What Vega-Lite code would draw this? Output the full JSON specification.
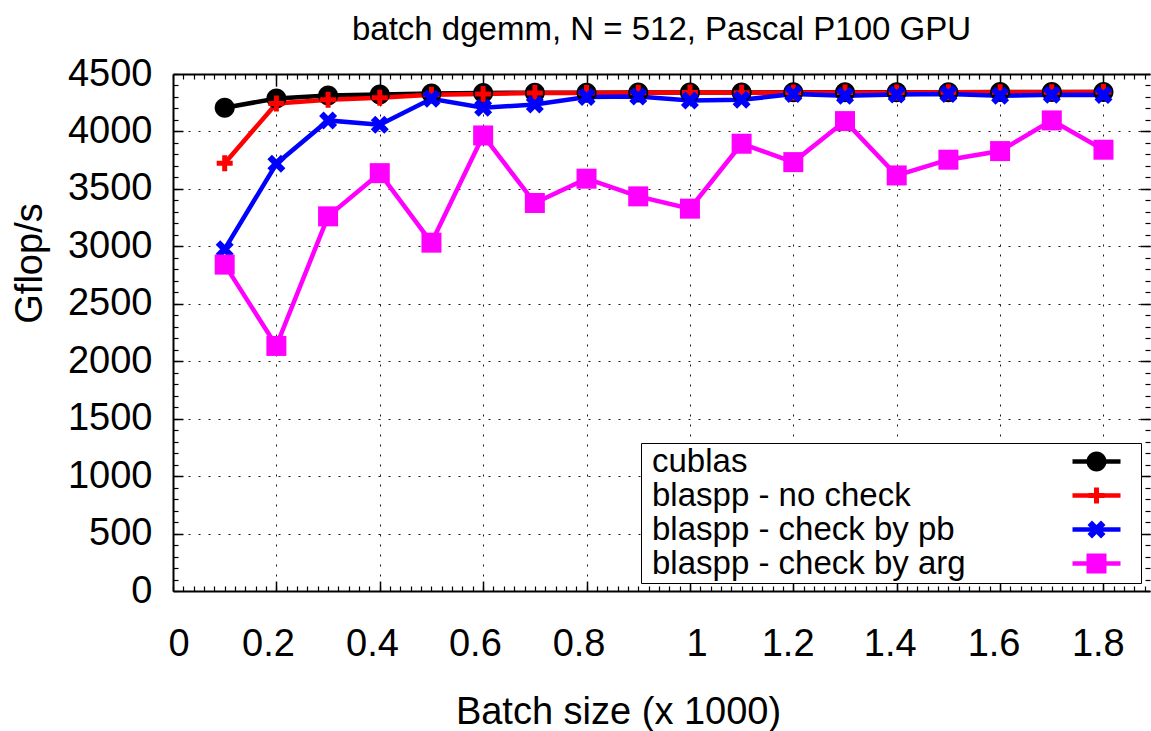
{
  "$schema": "https://vega.github.io/schema/vega-lite/v6.json",
  "width": 977,
  "height": 517,
  "autosize": {"type": "none"},
  "padding": {"left": 173, "top": 74, "right": 1, "bottom": 140},
  "background": "white",
  "config": {
    "font": "Liberation Sans",
    "view": {"stroke": null},
    "axis": {
      "labelColor": "black",
      "titleColor": "black",
      "domainColor": "black",
      "tickColor": "black",
      "labelFont": "Liberation Sans",
      "titleFont": "Liberation Sans",
      "titleFontWeight": "normal",
      "labelFlush": false,
      "labelOverlap": false,
      "gridColor": "black",
      "gridDash": [2, 8],
      "gridWidth": 1,
      "gridOpacity": 0.9
    },
    "legend": {
      "orient": "none",
      "legendX": 468,
      "legendY": 369,
      "labelFontSize": 33,
      "labelFont": "Liberation Sans",
      "labelColor": "black",
      "labelLimit": 800,
      "labelOffset": -461,
      "symbolOffset": 437,
      "symbolSize": 400,
      "rowPadding": 0,
      "padding": 2
    }
  },
  "title": {
    "text": "batch dgemm, N = 512, Pascal P100 GPU",
    "fontSize": 33,
    "fontWeight": "normal",
    "font": "Liberation Sans",
    "color": "black",
    "anchor": "middle",
    "offset": 8
  },
  "data": {
    "values": [
      {"series": "cublas", "x": 0.1, "gflops": 4206},
      {"series": "cublas", "x": 0.2, "gflops": 4287},
      {"series": "cublas", "x": 0.3, "gflops": 4313},
      {"series": "cublas", "x": 0.4, "gflops": 4322},
      {"series": "cublas", "x": 0.5, "gflops": 4330},
      {"series": "cublas", "x": 0.6, "gflops": 4335},
      {"series": "cublas", "x": 0.7, "gflops": 4337},
      {"series": "cublas", "x": 0.8, "gflops": 4336},
      {"series": "cublas", "x": 0.9, "gflops": 4338},
      {"series": "cublas", "x": 1.0, "gflops": 4340},
      {"series": "cublas", "x": 1.1, "gflops": 4339},
      {"series": "cublas", "x": 1.2, "gflops": 4341},
      {"series": "cublas", "x": 1.3, "gflops": 4341},
      {"series": "cublas", "x": 1.4, "gflops": 4342},
      {"series": "cublas", "x": 1.5, "gflops": 4342},
      {"series": "cublas", "x": 1.6, "gflops": 4343},
      {"series": "cublas", "x": 1.7, "gflops": 4344},
      {"series": "cublas", "x": 1.8, "gflops": 4344},
      {"series": "blaspp - no check", "x": 0.1, "gflops": 3724},
      {"series": "blaspp - no check", "x": 0.2, "gflops": 4243},
      {"series": "blaspp - no check", "x": 0.3, "gflops": 4276},
      {"series": "blaspp - no check", "x": 0.4, "gflops": 4293},
      {"series": "blaspp - no check", "x": 0.5, "gflops": 4320},
      {"series": "blaspp - no check", "x": 0.6, "gflops": 4326},
      {"series": "blaspp - no check", "x": 0.7, "gflops": 4334},
      {"series": "blaspp - no check", "x": 0.8, "gflops": 4334},
      {"series": "blaspp - no check", "x": 0.9, "gflops": 4336},
      {"series": "blaspp - no check", "x": 1.0, "gflops": 4338},
      {"series": "blaspp - no check", "x": 1.1, "gflops": 4337},
      {"series": "blaspp - no check", "x": 1.2, "gflops": 4339},
      {"series": "blaspp - no check", "x": 1.3, "gflops": 4340},
      {"series": "blaspp - no check", "x": 1.4, "gflops": 4339},
      {"series": "blaspp - no check", "x": 1.5, "gflops": 4341},
      {"series": "blaspp - no check", "x": 1.6, "gflops": 4342},
      {"series": "blaspp - no check", "x": 1.7, "gflops": 4341},
      {"series": "blaspp - no check", "x": 1.8, "gflops": 4343},
      {"series": "blaspp - check by pb", "x": 0.1, "gflops": 2975},
      {"series": "blaspp - check by pb", "x": 0.2, "gflops": 3719},
      {"series": "blaspp - check by pb", "x": 0.3, "gflops": 4096},
      {"series": "blaspp - check by pb", "x": 0.4, "gflops": 4058},
      {"series": "blaspp - check by pb", "x": 0.5, "gflops": 4284},
      {"series": "blaspp - check by pb", "x": 0.6, "gflops": 4206},
      {"series": "blaspp - check by pb", "x": 0.7, "gflops": 4235},
      {"series": "blaspp - check by pb", "x": 0.8, "gflops": 4300},
      {"series": "blaspp - check by pb", "x": 0.9, "gflops": 4305},
      {"series": "blaspp - check by pb", "x": 1.0, "gflops": 4270},
      {"series": "blaspp - check by pb", "x": 1.1, "gflops": 4275},
      {"series": "blaspp - check by pb", "x": 1.2, "gflops": 4325},
      {"series": "blaspp - check by pb", "x": 1.3, "gflops": 4310},
      {"series": "blaspp - check by pb", "x": 1.4, "gflops": 4322},
      {"series": "blaspp - check by pb", "x": 1.5, "gflops": 4325},
      {"series": "blaspp - check by pb", "x": 1.6, "gflops": 4310},
      {"series": "blaspp - check by pb", "x": 1.7, "gflops": 4320},
      {"series": "blaspp - check by pb", "x": 1.8, "gflops": 4318},
      {"series": "blaspp - check by arg", "x": 0.1, "gflops": 2841},
      {"series": "blaspp - check by arg", "x": 0.2, "gflops": 2133},
      {"series": "blaspp - check by arg", "x": 0.3, "gflops": 3261},
      {"series": "blaspp - check by arg", "x": 0.4, "gflops": 3637},
      {"series": "blaspp - check by arg", "x": 0.5, "gflops": 3032},
      {"series": "blaspp - check by arg", "x": 0.6, "gflops": 3965},
      {"series": "blaspp - check by arg", "x": 0.7, "gflops": 3377},
      {"series": "blaspp - check by arg", "x": 0.8, "gflops": 3589},
      {"series": "blaspp - check by arg", "x": 0.9, "gflops": 3435},
      {"series": "blaspp - check by arg", "x": 1.0, "gflops": 3328},
      {"series": "blaspp - check by arg", "x": 1.1, "gflops": 3893},
      {"series": "blaspp - check by arg", "x": 1.2, "gflops": 3733},
      {"series": "blaspp - check by arg", "x": 1.3, "gflops": 4090},
      {"series": "blaspp - check by arg", "x": 1.4, "gflops": 3617},
      {"series": "blaspp - check by arg", "x": 1.5, "gflops": 3754},
      {"series": "blaspp - check by arg", "x": 1.6, "gflops": 3829},
      {"series": "blaspp - check by arg", "x": 1.7, "gflops": 4096},
      {"series": "blaspp - check by arg", "x": 1.8, "gflops": 3841}
    ]
  },
  "resolve": {"axis": {"x": "independent", "y": "independent"}},
  "layer": [
    {
      "mark": {"type": "line", "strokeWidth": 4.5},
      "encoding": {
        "x": {
          "field": "x", "type": "quantitative",
          "scale": {"domain": [0, 1.89], "nice": false, "zero": false},
          "axis": {"orient": "bottom", "values": [0.2, 0.4, 0.6, 0.8, 1, 1.2, 1.4, 1.6, 1.8], "grid": true, "labels": false, "ticks": true, "tickSize": -10, "tickWidth": 1.5, "domain": true, "domainWidth": 2, "title": null}
        },
        "y": {
          "field": "gflops", "type": "quantitative",
          "scale": {"domain": [0, 4500], "nice": false, "zero": false},
          "axis": {"orient": "left", "values": [0, 500, 1000, 1500, 2000, 2500, 3000, 3500, 4000, 4500], "format": "d", "grid": false, "labels": true, "labelFontSize": 38, "labelPadding": 21, "ticks": false, "domain": true, "domainWidth": 2, "title": "Gflop/s", "titleFontSize": 38, "titlePadding": 18, "titleY": 189}
        },
        "color": {
          "field": "series", "type": "nominal", "title": null,
          "scale": {"domain": ["cublas", "blaspp - no check", "blaspp - check by pb", "blaspp - check by arg"], "range": ["#000000", "#ff0000", "#0000ff", "#ff00ff"]},
          "legend": {
            "title": null,
            "symbolType": "M-2.4,0H2.4M3.3,0L3.3,0",
            "symbolStrokeWidth": 4.5,
            "strokeColor": "black",
            "fillColor": "white",
            "labelColor": "black"
          }
        }
      }
    },
    {
      "mark": {"type": "point", "filled": true, "size": 400, "opacity": 1, "strokeWidth": 0},
      "encoding": {
        "x": {
          "field": "x", "type": "quantitative",
          "axis": {"orient": "top", "values": [0.2, 0.4, 0.6, 0.8, 1, 1.2, 1.4, 1.6, 1.8], "grid": false, "labels": false, "ticks": true, "tickSize": -12, "tickWidth": 1.5, "domain": true, "domainWidth": 2, "title": null}
        },
        "y": {
          "field": "gflops", "type": "quantitative",
          "axis": {"orient": "right", "values": [500, 1000, 1500, 2000, 2500, 3000, 3500, 4000], "grid": true, "labels": false, "ticks": true, "tickSize": -10, "tickWidth": 1.5, "domain": false, "title": null}
        },
        "fill": {
          "field": "series", "type": "nominal", "title": null,
          "scale": {"domain": ["blaspp - check by arg", "blaspp - check by pb", "blaspp - no check", "cublas"], "range": ["#ff00ff", "#0000ff", "#ff0000", "#000000"]},
          "legend": {
            "title": null,
            "values": ["cublas", "blaspp - no check", "blaspp - check by pb", "blaspp - check by arg"],
            "symbolStrokeWidth": 0,
            "strokeColor": "transparent",
            "fillColor": "transparent",
            "labelOpacity": 0
          }
        },
        "shape": {
          "field": "series", "type": "nominal", "title": null,
          "scale": {
            "domain": ["blaspp - check by arg", "blaspp - check by pb", "blaspp - no check", "cublas"],
            "range": [
              "M-1,-1H1V1H-1Z",
              "M-0.9,-0.45L-0.45,-0.9L0,-0.45L0.45,-0.9L0.9,-0.45L0.45,0L0.9,0.45L0.45,0.9L0,0.45L-0.45,0.9L-0.9,0.45L-0.45,0Z",
              "M-0.8,-0.25H-0.25V-0.8H0.25V-0.25H0.8V0.25H0.25V0.8H-0.25V0.25H-0.8Z",
              "M-1,0A1,1 0 1,1 1,0A1,1 0 1,1 -1,0Z"
            ]
          },
          "legend": {
            "title": null,
            "values": ["cublas", "blaspp - no check", "blaspp - check by pb", "blaspp - check by arg"],
            "symbolStrokeWidth": 0,
            "strokeColor": "transparent",
            "fillColor": "transparent",
            "labelOpacity": 0
          }
        }
      }
    },
    {
      "mark": {"type": "point", "opacity": 0},
      "encoding": {
        "x": {
          "field": "x", "type": "quantitative",
          "axis": {"orient": "bottom", "values": [0.011, 0.1838, 0.385, 0.584, 0.7845, 1.0128, 1.189, 1.3865, 1.5874, 1.789], "labelExpr": "'' + round(datum.value*5)/5", "labelFontSize": 38, "labelPadding": 34, "ticks": false, "domain": false, "grid": false, "title": "Batch size (x 1000)", "titleFontSize": 38, "titlePadding": 30, "titleX": 445}
        },
        "y": {
          "field": "gflops", "type": "quantitative",
          "axis": {"orient": "left", "tickCount": 45, "labels": false, "domain": false, "grid": false, "ticks": true, "tickSize": -5, "tickWidth": 1.2, "title": null}
        }
      }
    },
    {
      "mark": {"type": "point", "opacity": 0},
      "encoding": {
        "x": {
          "field": "x", "type": "quantitative",
          "axis": {"orient": "bottom", "tickCount": 95, "labels": false, "domain": false, "grid": false, "ticks": true, "tickSize": -5, "tickWidth": 1.2, "title": null}
        },
        "y": {
          "field": "gflops", "type": "quantitative",
          "axis": {"orient": "right", "tickCount": 45, "labels": false, "domain": false, "grid": false, "ticks": true, "tickSize": -5, "tickWidth": 1.2, "title": null}
        }
      }
    },
    {
      "mark": {"type": "point", "opacity": 0},
      "encoding": {
        "x": {
          "field": "x", "type": "quantitative",
          "axis": {"orient": "top", "tickCount": 95, "labels": false, "domain": false, "grid": false, "ticks": true, "tickSize": -5, "tickWidth": 1.2, "title": null}
        },
        "y": {
          "field": "gflops", "type": "quantitative",
          "axis": {"orient": "left", "values": [500, 1000, 1500, 2000, 2500, 3000, 3500, 4000], "labels": false, "domain": false, "grid": false, "ticks": true, "tickSize": -10, "tickWidth": 1.5, "title": null}
        }
      }
    }
  ]
}
